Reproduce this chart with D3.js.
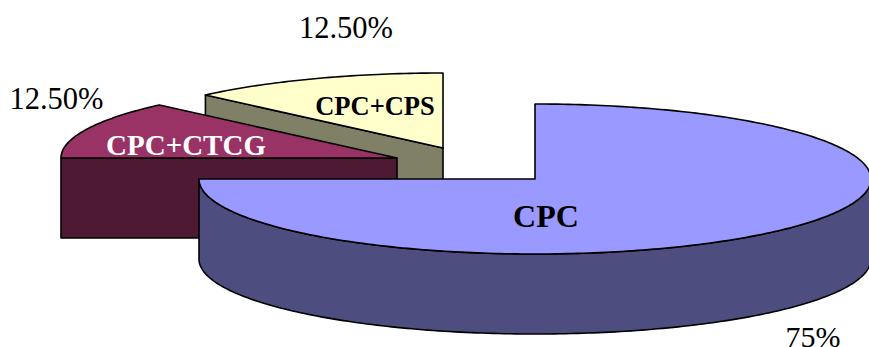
<!DOCTYPE html>
<html>
<head>
<meta charset="utf-8">
<script src="https://cdn.jsdelivr.net/npm/d3@7"></script>
<style>
  html, body { margin: 0; padding: 0; background: #fff; }
  svg { display: block; }
  text { font-family: "Liberation Serif", "Times New Roman", serif; }
</style>
</head>
<body>
<svg id="chart" width="869" height="347"></svg>
<script>
// Share of each treatment group
const categories = ["CPC", "CPC+CTCG", "CPC+CPS"];
const shares = [75, 12.5, 12.5];
const shareLabels = ["75%", "12.50%", "12.50%"];

// Tilted disc geometry
const radiusX = 336, radiusY = 75, depth = 80;

// Where each exploded slice has its apex, and how it is painted
const apexes = [[535, 179], [397, 158], [443, 148]];
const topColors = ["#9999ff", "#993366", "#ffffcc"];
const wallColors = ["#4d4d80", "#4d1933", "#808066"];
const nameColors = ["#000000", "#ffffff", "#000000"];
const nameSpots = [[546, 227, 32], [186, 155, 29], [375, 115, 26.5]];
const shareSpots = [[813, 347, 30], [56.5, 109, 30.5], [346, 38, 30.5]];

const svg = d3.select("#chart");
const slices = d3.pie().sort(null).value(d => d)(shares);

const rimX = d3.scaleLinear().domain([-1, 1]).range([-radiusX, radiusX]);
const rimY = d3.scaleLinear().domain([-1, 1]).range([radiusY, -radiusY]);
const rimPoint = (apex, a, drop = 0) =>
  [apex[0] + rimX(Math.sin(a)), apex[1] + rimY(Math.cos(a)) + drop];

const line = d3.line();
const arcPoints = (apex, a0, a1, drop = 0) => {
  const steps = Math.max(2, Math.ceil(Math.abs(a1 - a0) * 60));
  return d3.range(steps + 1).map(i => rimPoint(apex, a0 + (a1 - a0) * i / steps, drop));
};

// Painted back to front so the large slice overlaps the two smaller ones
[2, 1, 0].forEach(i => {
  const s = slices[i], apex = apexes[i];
  const g = svg.append("g")
    .attr("stroke", "#000").attr("stroke-width", 1.6).attr("stroke-linejoin", "round");

  if (i > 0) {
    // Cut face that looks towards the viewer, from the slice's start angle to its apex
    const edge = rimPoint(apex, s.startAngle);
    g.append("path").attr("fill", wallColors[i]).attr("d", line([
      edge, apex, [apex[0], apex[1] + depth], [edge[0], edge[1] + depth]
    ]) + "Z");
  } else {
    // Curved outer wall along the front half of the rim
    const front0 = Math.PI / 2, front1 = Math.min(s.endAngle, Math.PI * 1.5);
    g.append("path").attr("fill", wallColors[i]).attr("d", line([
      ...arcPoints(apex, front0, front1),
      ...arcPoints(apex, front1, front0, depth)
    ]) + "Z");
  }

  // Top face
  g.append("path").attr("fill", topColors[i]).attr("d", line([
    apex, ...arcPoints(apex, s.startAngle, s.endAngle)
  ]) + "Z");
});

// Slice names
svg.append("g").selectAll("text").data(categories).join("text")
  .attr("x", (d, i) => nameSpots[i][0]).attr("y", (d, i) => nameSpots[i][1])
  .attr("font-size", (d, i) => nameSpots[i][2])
  .attr("font-weight", "bold").attr("text-anchor", "middle")
  .attr("fill", (d, i) => nameColors[i]).text(d => d);

// Percent labels
svg.append("g").selectAll("text").data(shareLabels).join("text")
  .attr("x", (d, i) => shareSpots[i][0]).attr("y", (d, i) => shareSpots[i][1])
  .attr("font-size", (d, i) => shareSpots[i][2])
  .attr("text-anchor", "middle").attr("fill", "#000").text(d => d);
</script>
</body>
</html>
